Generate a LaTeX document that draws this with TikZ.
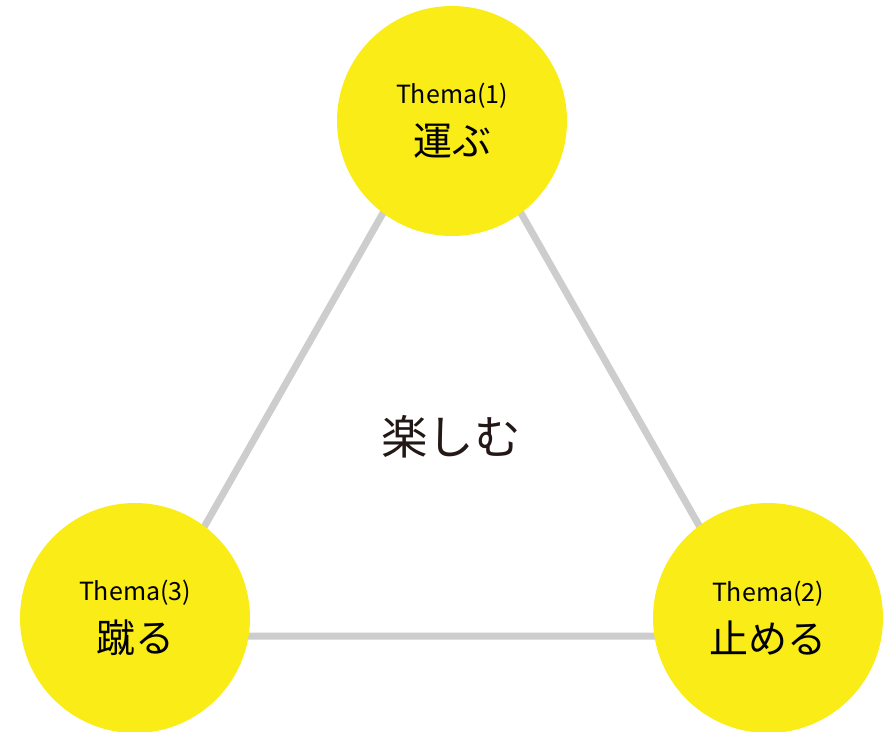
\documentclass[tikz,border=0pt]{standalone}
\usepackage{fontspec}
\setmainfont{Noto Sans CJK JP}
\usetikzlibrary{arrows}
\definecolor{themayellow}{RGB}{250,236,22}
\definecolor{linegray}{RGB}{205,205,205}
\definecolor{textbrown}{RGB}{35,24,21}

\begin{document}
\begin{tikzpicture}[x=1pt,y=-1pt,
		main node/.style={circle,fill=themayellow,minimum size=230pt,inner sep=0pt,align=center,font=\fontsize{39}{46}\selectfont},
		side line/.style={draw=linegray,line width=7pt}]
		
		\useasboundingbox (0,0) rectangle (886,731);
		\clip (0,0) rectangle (886,731);
		
		% triangle behind the circles
		\coordinate (ta) at (452,92);
		\coordinate (tb) at (762,636);
		\coordinate (tc) at (142,636);
		\path[side line] (ta) -- (tb) -- (tc) -- cycle;
		
		\node[main node] (a) at (452,121) {{\fontsize{25}{30}\selectfont Thema(1)}\\[6pt]運ぶ};
		\node[main node] (b) at (768,618) {{\fontsize{25}{30}\selectfont Thema(2)}\\[6pt]止める};
		\node[main node] (c) at (135,618) {{\fontsize{25}{30}\selectfont Thema(3)}\\[6pt]蹴る};
		
		\node[text=textbrown,font=\fontsize{46.5}{54}\selectfont] (m) at (451,437) {楽しむ};
		\end{tikzpicture}
\end{document}
